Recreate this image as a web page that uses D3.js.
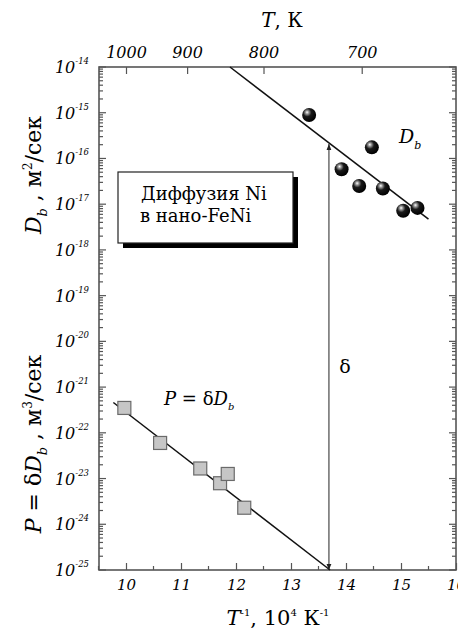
<!DOCTYPE html>
<html>
<head>
<meta charset="utf-8">
<script src="https://cdn.jsdelivr.net/npm/d3@7"></script>
<style>
  body { margin: 0; background: #fff; }
  svg { display: block; }
  .serif { font-family: "DejaVu Serif", serif; }
</style>
</head>
<body>
<div id="chart"></div>
<script>
// inverse temperature, 10^4 K^-1
const xMajorTicks = [10, 11, 12, 13, 14, 15, 16];
const xMinorTicks = [9.5, 10.5, 11.5, 12.5, 13.5, 14.5, 15.5];
const topTemps = [1000, 900, 800, 700];
const decades = d3.range(-25, -13);

// D_b points (spheres)
const dbT = [13.33, 14.47, 13.92, 14.24, 14.67, 15.04, 15.30];
const dbVal = [8.9e-16, 1.75e-16, 5.8e-17, 2.5e-17, 2.2e-17, 7.2e-18, 8.3e-18];

// P = delta*D_b points (squares)
const pT = [9.97, 10.62, 11.35, 11.71, 11.85, 12.15];
const pVal = [3.5e-22, 6.0e-23, 1.66e-23, 7.9e-24, 1.26e-23, 2.3e-24];

// fitted lines, end points
const dbFitT = [11.89, 15.5];
const dbFitVal = [1e-14, 4.7e-18];
const pFitT = [9.77, 13.71];
const pFitVal = [4.6e-22, 1e-25];

// delta arrow position
const deltaT = 13.69;

const width = 458, height = 630;
const plot = { left: 99, right: 456, top: 67, bottom: 570 };

const x = d3.scaleLinear().domain([9.5, 16]).range([98.5, 456]);
const y = d3.scaleLog().domain([1e-25, 1e-14]).range([plot.bottom, plot.top]);

const svg = d3.select("#chart").append("svg")
  .attr("width", width)
  .attr("height", height);

const defs = svg.append("defs");
const grad = defs.append("radialGradient")
  .attr("id", "ball")
  .attr("cx", "38%").attr("cy", "35%").attr("r", "65%")
  .attr("fx", "35%").attr("fy", "30%");
grad.append("stop").attr("offset", "0%").attr("stop-color", "#ffffff");
grad.append("stop").attr("offset", "18%").attr("stop-color", "#9a9a9a");
grad.append("stop").attr("offset", "45%").attr("stop-color", "#1a1a1a");
grad.append("stop").attr("offset", "100%").attr("stop-color", "#000");

defs.append("marker")
  .attr("id", "arrow")
  .attr("viewBox", "0 0 10 10")
  .attr("refX", 10).attr("refY", 5)
  .attr("markerWidth", 6).attr("markerHeight", 6)
  .attr("orient", "auto-start-reverse")
  .attr("markerUnits", "userSpaceOnUse")
  .append("path")
  .attr("d", "M0,1 L10,5 L0,9 Z")
  .attr("fill", "#222");

// ---- ticks ----
const tickColor = "#555";

// minor log ticks between decades
const minorY = [];
decades.slice(0, -1).forEach((e) => {
  for (let k = 2; k <= 9; k++) minorY.push(k * Math.pow(10, e));
});

function sideTicks(x0, dir) {
  const g = svg.append("g").attr("stroke", tickColor).attr("stroke-width", 1.2);
  g.selectAll("line.maj")
    .data(decades)
    .join("line")
    .attr("class", "maj")
    .attr("x1", x0).attr("x2", x0 + dir * 7)
    .attr("y1", (d) => y(Math.pow(10, d))).attr("y2", (d) => y(Math.pow(10, d)));
  g.selectAll("line.min")
    .data(minorY)
    .join("line")
    .attr("class", "min")
    .attr("x1", x0).attr("x2", x0 + dir * 4)
    .attr("y1", (d) => y(d)).attr("y2", (d) => y(d));
}
sideTicks(plot.left, 1);
sideTicks(plot.right, -1);

// bottom axis
const bottomAxis = d3.axisBottom(x)
  .tickValues(xMajorTicks)
  .tickSizeInner(-7)
  .tickSizeOuter(0)
  .tickPadding(9)
  .tickFormat(d3.format("d"));
const gb = svg.append("g")
  .attr("transform", `translate(0,${plot.bottom})`)
  .call(bottomAxis);
gb.select(".domain").remove();
gb.selectAll(".tick line").attr("stroke", tickColor).attr("stroke-width", 1.2);
gb.selectAll(".tick text")
  .attr("class", "serif")
  .attr("font-size", 15)
  .attr("font-style", "italic")
  .attr("fill", "#000");

svg.append("g").attr("stroke", tickColor).attr("stroke-width", 1.2)
  .selectAll("line")
  .data(xMinorTicks)
  .join("line")
  .attr("x1", (d) => x(d)).attr("x2", (d) => x(d))
  .attr("y1", plot.bottom).attr("y2", plot.bottom - 4);

// top axis in temperature
const topAxis = d3.axisTop(x)
  .tickValues(topTemps.map((T) => 1e4 / T))
  .tickSizeInner(-7)
  .tickSizeOuter(0)
  .tickPadding(9)
  .tickFormat((d, i) => topTemps[i]);
const gt = svg.append("g")
  .attr("transform", `translate(0,${plot.top})`)
  .call(topAxis);
gt.select(".domain").remove();
gt.selectAll(".tick line").attr("stroke", tickColor).attr("stroke-width", 1.2);
gt.selectAll(".tick text")
  .attr("class", "serif")
  .attr("font-size", 16)
  .attr("font-style", "italic")
  .attr("fill", "#000");

// frame
svg.append("rect")
  .attr("x", plot.left).attr("y", plot.top)
  .attr("width", plot.right - plot.left)
  .attr("height", plot.bottom - plot.top)
  .attr("fill", "none")
  .attr("stroke", "#555")
  .attr("stroke-width", 1.6);

// left tick labels 10^e
const ylab = svg.append("g").attr("class", "serif").attr("font-style", "italic").attr("fill", "#000");
decades.forEach((e) => {
  const t = ylab.append("text")
    .attr("x", 89)
    .attr("y", y(Math.pow(10, e)) + 6)
    .attr("text-anchor", "end")
    .attr("font-size", 16);
  t.append("tspan").text("10");
  t.append("tspan").attr("font-size", 8.5).attr("dy", -9).text(String(e));
});

// ---- fit lines ----
const line = d3.line().x((d) => x(d[0])).y((d) => y(d[1]));
svg.append("path")
  .datum(d3.zip(dbFitT, dbFitVal))
  .attr("d", line)
  .attr("fill", "none")
  .attr("stroke", "#111")
  .attr("stroke-width", 1.5);
svg.append("path")
  .datum(d3.zip(pFitT, pFitVal))
  .attr("d", line)
  .attr("fill", "none")
  .attr("stroke", "#111")
  .attr("stroke-width", 1.5);

// delta arrow: from bottom axis up to the D_b fit line
const dbAtDelta = Math.pow(10,
  Math.log10(dbFitVal[0]) +
  (deltaT - dbFitT[0]) / (dbFitT[1] - dbFitT[0]) *
  (Math.log10(dbFitVal[1]) - Math.log10(dbFitVal[0])));
svg.append("line")
  .attr("x1", x(deltaT)).attr("x2", x(deltaT))
  .attr("y1", y(dbAtDelta) + 1).attr("y2", y(1e-25))
  .attr("stroke", "#222")
  .attr("stroke-width", 1)
  .attr("marker-start", "url(#arrow)")
  .attr("marker-end", "url(#arrow)");

// ---- data points ----
svg.append("g")
  .selectAll("rect")
  .data(d3.zip(pT, pVal))
  .join("rect")
  .attr("x", (d) => x(d[0]) - 6.5)
  .attr("y", (d) => y(d[1]) - 6.5)
  .attr("width", 13)
  .attr("height", 13)
  .attr("fill", "#c6c6c6")
  .attr("stroke", "#6a6a6a")
  .attr("stroke-width", 1.2);

svg.append("g")
  .selectAll("circle")
  .data(d3.zip(dbT, dbVal))
  .join("circle")
  .attr("cx", (d) => x(d[0]))
  .attr("cy", (d) => y(d[1]))
  .attr("r", 7)
  .attr("fill", "url(#ball)");

// ---- annotations ----
const box = { x: 118, y: 172, w: 175, h: 71 };
svg.append("rect")
  .attr("x", box.x + 5).attr("y", box.y + 5)
  .attr("width", box.w).attr("height", box.h)
  .attr("fill", "#000");
svg.append("rect")
  .attr("x", box.x).attr("y", box.y)
  .attr("width", box.w).attr("height", box.h)
  .attr("fill", "#fff")
  .attr("stroke", "#222")
  .attr("stroke-width", 1.2);
svg.append("text")
  .attr("class", "serif")
  .attr("x", 141).attr("y", 200)
  .attr("font-size", 18)
  .attr("fill", "#000")
  .text("Диффузия Ni");
svg.append("text")
  .attr("class", "serif")
  .attr("x", 140).attr("y", 222)
  .attr("font-size", 18)
  .attr("fill", "#000")
  .text("в нано-FeNi");

// D_b label
const dbl = svg.append("text").attr("class", "serif").attr("x", 399).attr("y", 143)
  .attr("font-size", 19).attr("font-style", "italic").attr("fill", "#000");
dbl.append("tspan").text("D");
dbl.append("tspan").attr("font-size", 11).attr("dy", 6).text("b");

// P = delta D_b label
const pl = svg.append("text").attr("class", "serif").attr("x", 164).attr("y", 405)
  .attr("font-size", 18).attr("fill", "#000");
pl.append("tspan").attr("font-style", "italic").text("P");
pl.append("tspan").text(" = δ");
pl.append("tspan").attr("font-style", "italic").text("D");
pl.append("tspan").attr("font-style", "italic").attr("font-size", 10).attr("dy", 5).text("b");

// delta label
svg.append("text").attr("class", "serif")
  .attr("x", 345).attr("y", 373)
  .attr("text-anchor", "middle")
  .attr("font-size", 19)
  .attr("fill", "#000")
  .text("δ");

// ---- axis titles ----
const tt = svg.append("text").attr("class", "serif")
  .attr("x", 282).attr("y", 27)
  .attr("text-anchor", "middle")
  .attr("font-size", 20).attr("fill", "#000");
tt.append("tspan").attr("font-style", "italic").text("T");
tt.append("tspan").text(", К");

const xt = svg.append("text").attr("class", "serif")
  .attr("x", 278).attr("y", 625)
  .attr("text-anchor", "middle")
  .attr("font-size", 21).attr("fill", "#000");
xt.append("tspan").attr("font-style", "italic").text("T");
xt.append("tspan").attr("font-size", 10).attr("dy", -9).text("-1");
xt.append("tspan").attr("dy", 9).text(", 10");
xt.append("tspan").attr("font-size", 10).attr("dy", -9).text("4");
xt.append("tspan").attr("dy", 9).text(" К");
xt.append("tspan").attr("font-size", 10).attr("dy", -9).text("-1");

const yt1 = svg.append("text").attr("class", "serif")
  .attr("transform", "translate(41,175) rotate(-90)")
  .attr("text-anchor", "middle")
  .attr("font-size", 22).attr("fill", "#000");
yt1.append("tspan").attr("font-style", "italic").text("D");
yt1.append("tspan").attr("font-style", "italic").attr("font-size", 13).attr("dy", 6).text("b");
yt1.append("tspan").attr("dy", -6).text(" , м");
yt1.append("tspan").attr("font-size", 12).attr("dy", -9).text("2");
yt1.append("tspan").attr("dy", 9).text("/сек");

const yt2 = svg.append("text").attr("class", "serif")
  .attr("transform", "translate(41,444) rotate(-90)")
  .attr("text-anchor", "middle")
  .attr("font-size", 22).attr("fill", "#000");
yt2.append("tspan").attr("font-style", "italic").text("P");
yt2.append("tspan").text(" = δ");
yt2.append("tspan").attr("font-style", "italic").text("D");
yt2.append("tspan").attr("font-style", "italic").attr("font-size", 13).attr("dy", 6).text("b");
yt2.append("tspan").attr("dy", -6).text(" , м");
yt2.append("tspan").attr("font-size", 12).attr("dy", -9).text("3");
yt2.append("tspan").attr("dy", 9).text("/сек");
</script>
</body>
</html>
